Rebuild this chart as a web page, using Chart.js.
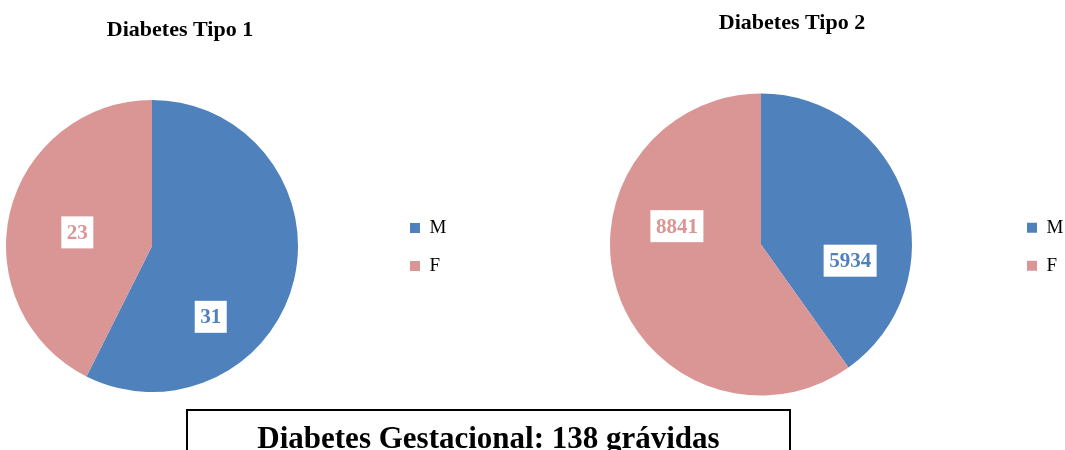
<!DOCTYPE html>
<html>
<head>
<meta charset="utf-8">
<script src="https://cdn.jsdelivr.net/npm/chart.js@4/dist/chart.umd.min.js"></script>
<style>
    body { margin: 0; background: #fff; }
    #wrap { position: relative; width: 1065px; height: 450px; overflow: hidden; }
    canvas { position: absolute; top: 0; }
    #tipo1 { left: 0; }
    #tipo2 { left: 530px; }
    #gestacional {
        position: absolute; left: 186px; top: 409px; width: 605px; height: 60px;
        border: 2px solid #000; text-align: center; padding-top: 9px; box-sizing: border-box;
        font: bold 31px "Liberation Serif", serif; color: #000; line-height: normal;
    }
</style>
</head>
<body>
<div id="wrap">
    <canvas id="tipo1" width="470" height="450"></canvas>
    <canvas id="tipo2" width="535" height="450"></canvas>
    <div id="gestacional"></div>
</div>
<script>
const sexLabels = ['M', 'F'];
const sexColors = ['#4F81BD', '#D99694'];
const tipo1Values = [31, 23];
const tipo2Values = [5934, 8841];
const tipo1Title = 'Diabetes Tipo 1';
const tipo2Title = 'Diabetes Tipo 2';
const gestacionalCount = 138;

Chart.defaults.font.family = '"Liberation Serif", serif';
Chart.defaults.color = '#000';

// white boxes with the value, like the Excel data labels
// (turn = degrees to rotate the label off the slice middle, Excel "best fit" style)
const valueBoxes = {
    id: 'valueBoxes',
    afterDatasetsDraw(chart, args, opts) {
        const ctx = chart.ctx;
        const ds = chart.data.datasets[0];
        ctx.save();
        ctx.font = 'bold 21px "Liberation Serif", serif';
        ctx.textAlign = 'center';
        ctx.textBaseline = 'middle';
        chart.getDatasetMeta(0).data.forEach((arc, i) => {
            const { x, y, startAngle, endAngle, outerRadius } = arc.getProps(['x', 'y', 'startAngle', 'endAngle', 'outerRadius']);
            const mid = (startAngle + endAngle) / 2 + (opts.turn[i] || 0) * Math.PI / 180;
            const lx = x + Math.cos(mid) * outerRadius * opts.dist[i];
            const ly = y + Math.sin(mid) * outerRadius * opts.dist[i];
            const text = String(ds.data[i]);
            const w = ctx.measureText(text).width + 11;
            ctx.fillStyle = '#fff';
            ctx.fillRect(lx - w / 2, ly - 16, w, 32);
            ctx.fillStyle = ds.backgroundColor[i];
            ctx.fillText(text, lx, ly + 1);
        });
        ctx.restore();
    }
};

// the legend sits away from the pie in the original, move it after layout
const legendShift = {
    id: 'legendShift',
    afterLayout(chart, args, opts) {
        const lg = chart.legend;
        lg.left += opts.dx; lg.right += opts.dx;
        lg.top += opts.dy; lg.bottom += opts.dy;
    }
};

function makePie(id, title, values, pad, titlePad, legendWidth, shift, labelPlace) {
    return new Chart(document.getElementById(id), {
        type: 'pie',
        data: {
            labels: sexLabels,
            datasets: [{
                data: values,
                backgroundColor: sexColors,
                borderWidth: 0
            }]
        },
        options: {
            responsive: false,
            animation: false,
            devicePixelRatio: 1,
            layout: { padding: pad },
            plugins: {
                title: {
                    display: true,
                    text: title,
                    font: { size: 22, weight: 'bold' },
                    padding: titlePad
                },
                legend: {
                    position: 'right',
                    maxWidth: legendWidth,
                    labels: { boxWidth: 10, boxHeight: 10, padding: 19, font: { size: 19 } }
                },
                tooltip: { enabled: false },
                legendShift: shift,
                valueBoxes: labelPlace
            }
        },
        plugins: [valueBoxes, legendShift]
    });
}

makePie('tipo1', tipo1Title, tipo1Values,
    { left: 6, right: 116, top: 0, bottom: 58 },
    { top: 16.8, bottom: 56.8 }, 56, { dx: 93, dy: 51 },
    { turn: [37, -3], dist: [0.63, 0.52] });

makePie('tipo2', tipo2Title, tipo2Values,
    { left: 80, right: 91, top: 0, bottom: 54.5 },
    { top: 10.3, bottom: 56.8 }, 62, { dx: 96, dy: 49 },
    { turn: [28, 30], dist: [0.6, 0.57] });

document.getElementById('gestacional').textContent = 'Diabetes Gestacional: ' + gestacionalCount + ' grávidas';
</script>
</body>
</html>
